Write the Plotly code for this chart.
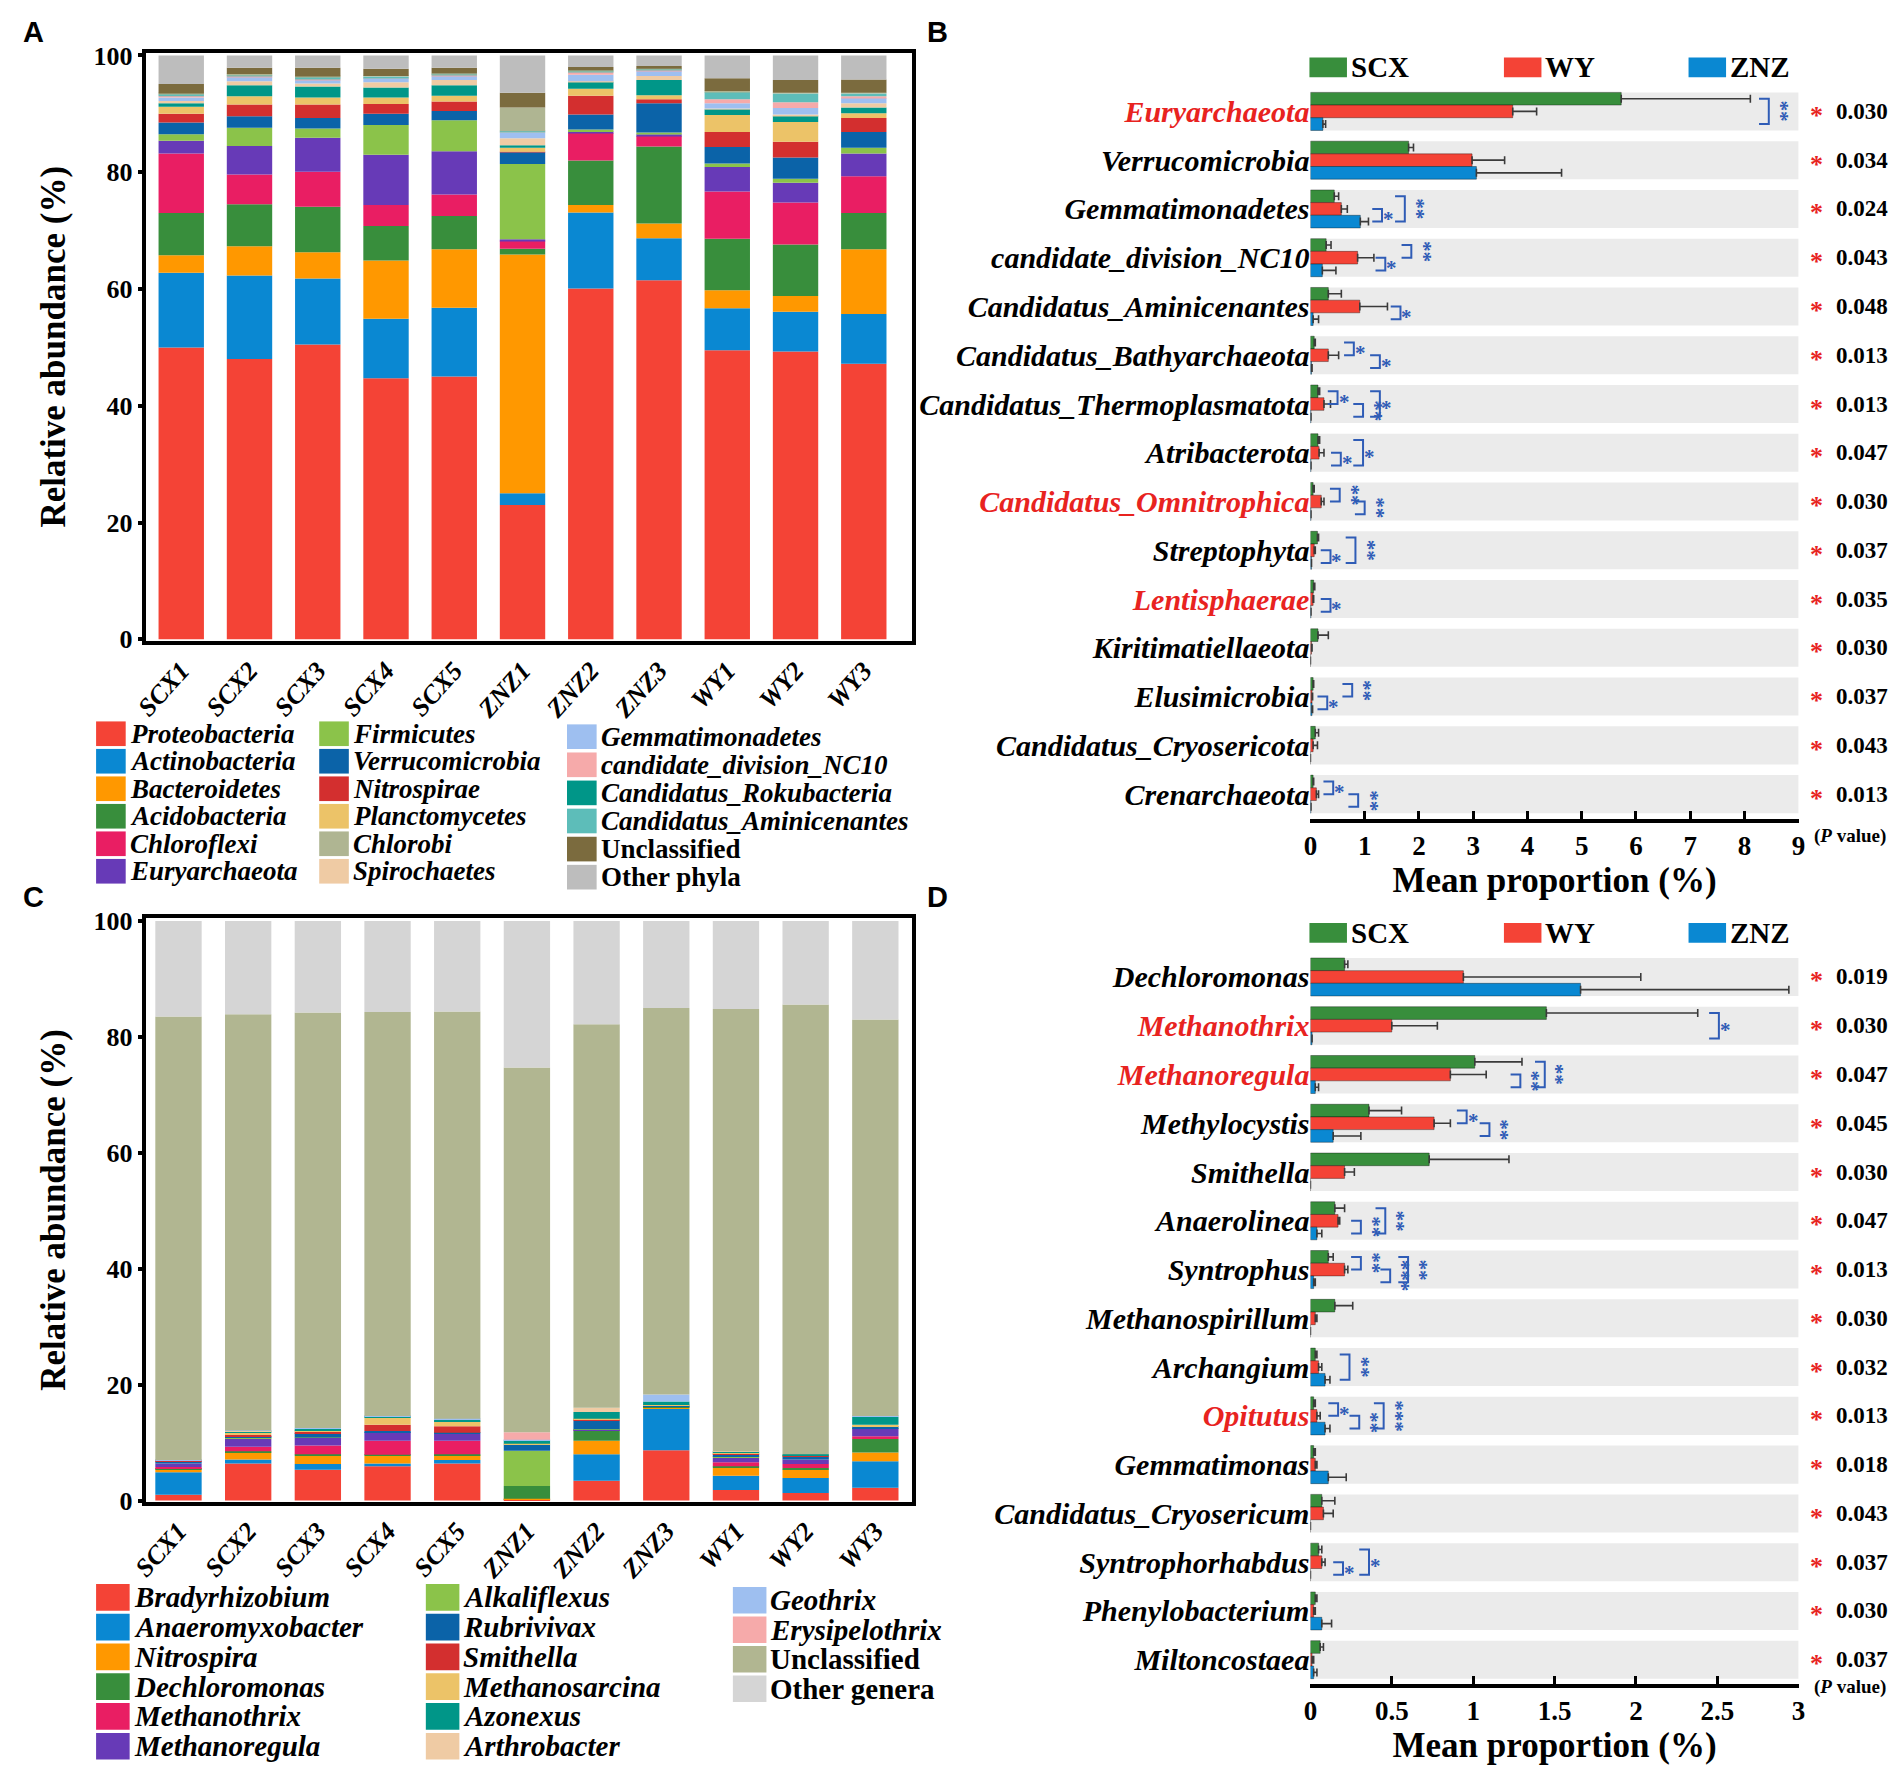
import numpy as np
import plotly.graph_objects as go

# page body has an 8 px margin: the figure is sized so the page fits the window exactly
OFF = 8
FW, FH = 1885, 1766
def px(x): return (x - OFF) / FW
def py(y): return 1 - (y - OFF) / FH

SERIF = "Liberation Serif"
SANS = "Liberation Sans"

samples = ["SCX1", "SCX2", "SCX3", "SCX4", "SCX5", "ZNZ1", "ZNZ2", "ZNZ3", "WY1", "WY2", "WY3"]

# ---------------- Panel A : phyla (relative abundance, %) ----------------
proteobacteria   = [50.0, 48.0, 50.5, 44.7, 45.0, 23.0, 60.1, 61.5, 49.5, 49.3, 47.2]
actinobacteria   = [12.8, 14.3, 11.3, 10.2, 11.8, 2.0, 13.0, 7.2, 7.2, 6.8, 8.5]
bacteroidetes    = [3.0, 5.0, 4.5, 10.0, 10.0, 40.9, 1.3, 2.5, 3.1, 2.7, 11.1]
acidobacteria    = [7.2, 7.2, 7.8, 5.9, 5.7, 1.0, 7.6, 13.2, 8.8, 8.8, 6.2]
chloroflexi      = [10.2, 5.1, 6.0, 3.6, 3.7, 1.4, 4.7, 1.8, 8.1, 7.2, 6.3]
euryarchaeota    = [2.2, 4.9, 5.8, 8.6, 7.4, 0.2, 0.2, 0.3, 4.2, 3.4, 3.9]
firmicutes       = [1.1, 3.1, 1.6, 5.1, 5.3, 12.9, 0.4, 0.3, 0.6, 0.7, 1.0]
verrucomicrobia  = [2.0, 2.0, 1.8, 1.9, 1.6, 2.0, 2.6, 5.0, 2.8, 3.6, 2.7]
nitrospirae      = [1.5, 2.0, 2.3, 1.7, 1.6, 0.1, 3.2, 0.7, 2.6, 2.7, 2.4]
planctomycetes   = [1.2, 1.4, 1.2, 1.1, 1.0, 0.7, 1.2, 0.7, 2.9, 3.4, 0.8]
rokubacteria     = [0.6, 1.9, 1.9, 1.7, 1.8, 0.4, 1.2, 2.6, 1.0, 1.1, 1.0]
spirochaetes     = [0.4, 0.7, 0.5, 0.9, 0.9, 1.2, 0.1, 0.7, 0.1, 0.2, 0.7]
gemmatimonadetes = [0.6, 0.7, 0.6, 0.7, 0.7, 1.0, 1.1, 0.9, 0.9, 1.1, 0.9]
nc10             = [0.2, 0.1, 0.1, 0.1, 0.1, 0.1, 0.5, 0.1, 0.7, 1.0, 0.3]
aminicenantes    = [0.4, 0.3, 0.4, 0.2, 0.2, 0.1, 0.1, 0.1, 1.3, 1.5, 0.5]
chlorobi         = [0.1, 0.1, 0.1, 0.1, 0.1, 4.1, 0.1, 0.1, 0.1, 0.1, 0.1]
unclassified_a   = [1.6, 1.1, 1.5, 1.2, 1.0, 2.5, 0.6, 0.5, 2.2, 2.2, 2.3]
other_phyla      = [4.9, 2.1, 2.1, 2.3, 2.1, 6.4, 2.0, 1.8, 3.9, 4.2, 4.1]

# (name, values, colour, italic) in stacking order (bottom -> top)
a_stack = [
    ("Proteobacteria", proteobacteria, "#F44336", True),
    ("Actinobacteria", actinobacteria, "#0A88D2", True),
    ("Bacteroidetes", bacteroidetes, "#FF9800", True),
    ("Acidobacteria", acidobacteria, "#388E3C", True),
    ("Chloroflexi", chloroflexi, "#E91E63", True),
    ("Euryarchaeota", euryarchaeota, "#673AB7", True),
    ("Firmicutes", firmicutes, "#8BC34A", True),
    ("Verrucomicrobia", verrucomicrobia, "#0B63A8", True),
    ("Nitrospirae", nitrospirae, "#D32F2F", True),
    ("Planctomycetes", planctomycetes, "#ECC368", True),
    ("Candidatus_Rokubacteria", rokubacteria, "#009688", True),
    ("Spirochaetes", spirochaetes, "#EFCBA4", True),
    ("Gemmatimonadetes", gemmatimonadetes, "#9EBFF0", True),
    ("candidate_division_NC10", nc10, "#F6AAAA", True),
    ("Candidatus_Aminicenantes", aminicenantes, "#5DBDB9", True),
    ("Chlorobi", chlorobi, "#AFB592", True),
    ("Unclassified", unclassified_a, "#7B6B3E", False),
    ("Other phyla", other_phyla, "#BDBDBD", False),
]
a_legend_cols = [
    ["Proteobacteria", "Actinobacteria", "Bacteroidetes", "Acidobacteria", "Chloroflexi", "Euryarchaeota"],
    ["Firmicutes", "Verrucomicrobia", "Nitrospirae", "Planctomycetes", "Chlorobi", "Spirochaetes"],
    ["Gemmatimonadetes", "candidate_division_NC10", "Candidatus_Rokubacteria", "Candidatus_Aminicenantes", "Unclassified", "Other phyla"],
]

# ---------------- Panel C : genera (relative abundance, %) ----------------
bradyrhizobium   = [1.0, 6.4, 5.3, 5.9, 6.4, 0.1, 3.4, 8.7, 1.8, 1.3, 2.2]
anaeromyxobacter = [3.9, 0.7, 1.0, 0.5, 0.6, 0.1, 4.6, 7.1, 2.5, 2.6, 4.6]
nitrospira       = [0.5, 1.2, 1.4, 1.3, 0.8, 0.1, 2.3, 0.2, 1.3, 1.4, 1.5]
dechloromonas    = [0.1, 0.2, 0.3, 0.2, 0.2, 2.2, 1.7, 0.2, 0.3, 0.3, 2.3]
methanothrix     = [0.3, 0.8, 1.5, 2.4, 2.3, 0.0, 0.1, 0.0, 0.7, 0.7, 0.5]
methanoregula    = [0.6, 1.4, 1.3, 1.5, 1.2, 0.0, 0.1, 0.0, 0.8, 0.8, 1.3]
alkaliflexus     = [0.0, 0.1, 0.1, 0.0, 0.0, 6.1, 0.1, 0.0, 0.1, 0.0, 0.1]
rubrivivax       = [0.4, 0.2, 0.7, 0.2, 0.2, 1.1, 1.5, 0.1, 0.5, 0.5, 0.2]
smithella        = [0.1, 0.3, 0.3, 1.1, 1.1, 0.0, 0.1, 0.0, 0.1, 0.1, 0.1]
methanosarcina   = [0.0, 0.4, 0.2, 1.2, 0.9, 0.1, 0.2, 0.2, 0.1, 0.1, 0.3]
azonexus         = [0.0, 0.2, 0.3, 0.2, 0.2, 0.6, 1.2, 0.6, 0.2, 0.2, 1.3]
arthrobacter     = [0.0, 0.1, 0.0, 0.0, 0.1, 0.0, 0.7, 0.0, 0.1, 0.0, 0.1]
geothrix         = [0.1, 0.1, 0.1, 0.1, 0.1, 0.1, 0.0, 1.2, 0.0, 0.0, 0.1]
erysipelothrix   = [0.0, 0.0, 0.0, 0.0, 0.0, 1.3, 0.0, 0.0, 0.0, 0.0, 0.0]
unclassified_c   = [76.5, 71.8, 71.7, 69.7, 70.3, 62.9, 66.2, 66.7, 76.3, 77.6, 68.4]
other_genera     = [16.5, 16.1, 15.8, 15.7, 15.6, 25.3, 17.8, 15.0, 15.2, 14.4, 17.0]

c_stack = [
    ("Bradyrhizobium", bradyrhizobium, "#F44336", True),
    ("Anaeromyxobacter", anaeromyxobacter, "#0A88D2", True),
    ("Nitrospira", nitrospira, "#FF9800", True),
    ("Dechloromonas", dechloromonas, "#388E3C", True),
    ("Methanothrix", methanothrix, "#E91E63", True),
    ("Methanoregula", methanoregula, "#673AB7", True),
    ("Alkaliflexus", alkaliflexus, "#8BC34A", True),
    ("Rubrivivax", rubrivivax, "#0B63A8", True),
    ("Smithella", smithella, "#D32F2F", True),
    ("Methanosarcina", methanosarcina, "#ECC368", True),
    ("Azonexus", azonexus, "#009688", True),
    ("Arthrobacter", arthrobacter, "#EFCBA4", True),
    ("Geothrix", geothrix, "#9EBFF0", True),
    ("Erysipelothrix", erysipelothrix, "#F6AAAA", True),
    ("Unclassified", unclassified_c, "#B1B691", False),
    ("Other genera", other_genera, "#D5D5D5", False),
]
c_legend_cols = [
    ["Bradyrhizobium", "Anaeromyxobacter", "Nitrospira", "Dechloromonas", "Methanothrix", "Methanoregula"],
    ["Alkaliflexus", "Rubrivivax", "Smithella", "Methanosarcina", "Azonexus", "Arthrobacter"],
    ["Geothrix", "Erysipelothrix", "Unclassified", "Other genera"],
]

# ---------------- Panel B : phyla mean proportion (%) ----------------
groups = ["SCX", "WY", "ZNZ"]
group_colors = ["#388E3C", "#F44336", "#0A88D2"]

b_taxa = ["Euryarchaeota", "Verrucomicrobia", "Gemmatimonadetes", "candidate_division_NC10",
          "Candidatus_Aminicenantes", "Candidatus_Bathyarchaeota", "Candidatus_Thermoplasmatota",
          "Atribacterota", "Candidatus_Omnitrophica", "Streptophyta", "Lentisphaerae",
          "Kiritimatiellaeota", "Elusimicrobia", "Candidatus_Cryosericota", "Crenarchaeota"]
b_scx = [5.73, 1.81, 0.44, 0.29, 0.33, 0.07, 0.14, 0.14, 0.05, 0.13, 0.06, 0.14, 0.05, 0.09, 0.05]
b_wy  = [3.73, 2.98, 0.57, 0.87, 0.91, 0.33, 0.25, 0.16, 0.20, 0.07, 0.05, 0.02, 0.03, 0.05, 0.11]
b_znz = [0.23, 3.06, 0.92, 0.22, 0.05, 0.02, 0.01, 0.01, 0.01, 0.02, 0.01, 0.00, 0.03, 0.00, 0.01]
b_scx_err = [2.38, 0.09, 0.08, 0.09, 0.24, 0.02, 0.03, 0.03, 0.02, 0.02, 0.02, 0.19, 0.01, 0.06, 0.01]
b_wy_err  = [0.44, 0.60, 0.11, 0.30, 0.51, 0.19, 0.12, 0.09, 0.05, 0.02, 0.01, 0.01, 0.01, 0.08, 0.04]
b_znz_err = [0.05, 1.57, 0.15, 0.25, 0.10, 0.01, 0.00, 0.00, 0.00, 0.00, 0.00, 0.00, 0.01, 0.00, 0.00]
b_pvalues = ["0.030", "0.034", "0.024", "0.043", "0.048", "0.013", "0.013", "0.047", "0.030",
             "0.037", "0.035", "0.030", "0.037", "0.043", "0.013"]
b_red = ["Euryarchaeota", "Candidatus_Omnitrophica", "Lentisphaerae"]
# (row, group a, group b, x of bracket, number of stars)
b_brackets = [
    (0, 0, 2, 8.45, 2),
    (2, 1, 2, 1.32, 1), (2, 0, 2, 1.74, 2),
    (3, 0, 1, 1.86, 2), (3, 1, 2, 1.38, 1),
    (4, 1, 2, 1.66, 1),
    (5, 0, 1, 0.80, 1), (5, 1, 2, 1.28, 1),
    (6, 0, 1, 0.50, 1), (6, 1, 2, 0.97, 2), (6, 0, 2, 1.28, 1),
    (7, 1, 2, 0.56, 1), (7, 0, 2, 0.97, 1),
    (8, 0, 1, 0.54, 2), (8, 1, 2, 1.00, 2),
    (9, 1, 2, 0.37, 1), (9, 0, 2, 0.83, 2),
    (10, 1, 2, 0.37, 1),
    (12, 0, 1, 0.77, 2), (12, 1, 2, 0.31, 1),
    (14, 0, 1, 0.42, 1), (14, 1, 2, 0.88, 2),
]

# ---------------- Panel D : genera mean proportion (%) ----------------
d_taxa = ["Dechloromonas", "Methanothrix", "Methanoregula", "Methylocystis", "Smithella",
          "Anaerolinea", "Syntrophus", "Methanospirillum", "Archangium", "Opitutus",
          "Gemmatimonas", "Candidatus_Cryosericum", "Syntrophorhabdus", "Phenylobacterium",
          "Miltoncostaea"]
d_scx = [0.21, 1.45, 1.01, 0.36, 0.73, 0.15, 0.11, 0.15, 0.03, 0.02, 0.02, 0.07, 0.05, 0.03, 0.06]
d_wy  = [0.94, 0.50, 0.86, 0.76, 0.21, 0.17, 0.21, 0.03, 0.05, 0.04, 0.03, 0.08, 0.07, 0.02, 0.01]
d_znz = [1.66, 0.01, 0.03, 0.14, 0.00, 0.04, 0.02, 0.00, 0.09, 0.09, 0.11, 0.00, 0.00, 0.07, 0.02]
d_scx_err = [0.02, 0.93, 0.29, 0.20, 0.49, 0.06, 0.03, 0.11, 0.01, 0.01, 0.01, 0.08, 0.02, 0.01, 0.02]
d_wy_err  = [1.09, 0.28, 0.22, 0.10, 0.06, 0.01, 0.02, 0.01, 0.02, 0.02, 0.01, 0.06, 0.02, 0.01, 0.01]
d_znz_err = [1.28, 0.00, 0.02, 0.17, 0.00, 0.03, 0.01, 0.00, 0.03, 0.03, 0.11, 0.00, 0.00, 0.06, 0.02]
d_pvalues = ["0.019", "0.030", "0.047", "0.045", "0.030", "0.047", "0.013", "0.030", "0.032",
             "0.013", "0.018", "0.043", "0.037", "0.030", "0.037"]
d_red = ["Methanothrix", "Methanoregula", "Opitutus"]
d_brackets = [
    (1, 0, 2, 2.51, 1),
    (2, 1, 2, 1.29, 2), (2, 0, 2, 1.44, 2),
    (3, 0, 1, 0.96, 1), (3, 1, 2, 1.10, 2),
    (5, 1, 2, 0.31, 2), (5, 0, 2, 0.46, 2),
    (6, 0, 1, 0.31, 2), (6, 1, 2, 0.49, 3), (6, 0, 2, 0.60, 2),
    (8, 0, 2, 0.24, 2),
    (9, 0, 1, 0.17, 1), (9, 1, 2, 0.30, 2), (9, 0, 2, 0.45, 3),
    (12, 1, 2, 0.20, 1), (12, 0, 2, 0.36, 1),
]

# ======================================================================
fig = go.Figure()
shapes = []
annotations = []
BR = "#2F5CB6"

# ---- stacked bars (A and C)
def add_stack(stack, xa, ya):
    base = np.zeros(len(samples))
    for name, vals, col, _ in stack:
        v = np.array(vals, dtype=float)
        fig.add_trace(go.Bar(
            x=list(range(len(samples))), y=v, base=base.copy(), width=0.665,
            marker=dict(color=col, line=dict(width=0)), name=name,
            xaxis=xa, yaxis=ya, showlegend=False,
            hovertemplate=name + ": %{y}<extra></extra>"))
        base = base + v

add_stack(a_stack, "x", "y")
add_stack(c_stack, "x3", "y3")

# ---- grouped horizontal bars (B and D)
GW = 0.78
BW = GW / 3
centers = [-GW / 2 + BW / 2 + BW * k for k in range(3)]

def add_group(taxa, vals, errs, xa, ya, xmax):
    n = len(taxa)
    for i in range(n):
        shapes.append(dict(type="rect", xref=xa, yref=ya, x0=0, x1=xmax,
                           y0=i - GW / 2, y1=i + GW / 2, fillcolor="#EBEBEB",
                           line=dict(width=0), layer="below"))
    for k in range(3):
        fig.add_trace(go.Bar(
            y=list(range(n)), x=vals[k], orientation="h", width=BW,
            offset=-GW / 2 + BW * k, name=groups[k],
            marker=dict(color=group_colors[k], line=dict(color="rgba(0,0,0,0.35)", width=1)),
            error_x=dict(type="data", array=errs[k], arrayminus=[0] * n, symmetric=False,
                         color="#3a3a3a", thickness=1.6, width=4),
            xaxis=xa, yaxis=ya, showlegend=False))

add_group(b_taxa, [b_scx, b_wy, b_znz], [b_scx_err, b_wy_err, b_znz_err], "x2", "y2", 9)
add_group(d_taxa, [d_scx, d_wy, d_znz], [d_scx_err, d_wy_err, d_znz_err], "x4", "y4", 3)

def add_brackets(brackets, xa, ya, tick):
    for row, g1, g2, xv, nstar in brackets:
        y1 = row + centers[g1]
        y2 = row + centers[g2]
        shapes.append(dict(type="path", xref=xa, yref=ya,
                           path=f"M {xv - tick},{y1} L {xv},{y1} L {xv},{y2} L {xv - tick},{y2}",
                           line=dict(color=BR, width=2)))
        if nstar == 1:
            annotations.append(dict(x=xv, y=(y1 + y2) / 2, xref=xa, yref=ya, text="<b>*</b>",
                                    showarrow=False, xanchor="left", xshift=-1, yshift=-4,
                                    font=dict(family=SERIF, size=21, color=BR)))
        else:
            annotations.append(dict(x=xv, y=(y1 + y2) / 2, xref=xa, yref=ya,
                                    text="<b>" + "*" * nstar + "</b>",
                                    textangle=90, showarrow=False, xanchor="left", xshift=-2,
                                    font=dict(family=SERIF, size=21, color=BR)))

add_brackets(b_brackets, "x2", "y2", 0.18)
add_brackets(d_brackets, "x4", "y4", 0.06)

def add_pvalues(pvals, ya, ypv):
    for i, p in enumerate(pvals):
        annotations.append(dict(x=px(1823), y=i, xref="paper", yref=ya, text="<b>*</b>",
                                showarrow=False, xanchor="center", yshift=-4,
                                font=dict(family=SERIF, size=26, color="#E8231F")))
        annotations.append(dict(x=px(1840), y=i, xref="paper", yref=ya, text="<b>" + p + "</b>",
                                showarrow=False, xanchor="left",
                                font=dict(family=SERIF, size=23, color="black")))
    annotations.append(dict(x=px(1857), y=py(ypv), xref="paper", yref="paper",
                            text="<b>(<i>P</i> value)</b>", showarrow=False, xanchor="center",
                            font=dict(family=SERIF, size=19, color="black")))

add_pvalues(b_pvalues, "y2", 837)
add_pvalues(d_pvalues, "y4", 1713)

def tick_labels(taxa, red):
    out = []
    for t in taxa:
        if t in red:
            out.append(f"<span style='color:#E8231F'>{t}</span>")
        else:
            out.append(t)
    return out

# ---- manual legends
def add_legend(cols, stack, col_x, row_y0, row_dy, sw_w, sw_h, fsize):
    info = {name: (col, it) for name, _, col, it in stack}
    for c, names in enumerate(cols):
        for r, name in enumerate(names):
            col, it = info[name]
            yc = row_y0[c] + r * row_dy[c]
            shapes.append(dict(type="rect", xref="paper", yref="paper",
                               x0=px(col_x[c]), x1=px(col_x[c] + sw_w),
                               y0=py(yc + sw_h / 2), y1=py(yc - sw_h / 2),
                               fillcolor=col, line=dict(width=0)))
            txt = f"<b><i>{name}</i></b>" if it else f"<b>{name}</b>"
            annotations.append(dict(x=px(col_x[c] + sw_w + 2), y=py(yc), xref="paper", yref="paper",
                                    text=txt, showarrow=False, xanchor="left", yanchor="middle",
                                    font=dict(family=SERIF, size=fsize, color="black")))

add_legend(a_legend_cols, a_stack, [80, 306, 557], [733, 733, 736], [27.9, 27.9, 28.5], 30, 25, 27)
add_legend(c_legend_cols, c_stack, [80, 414, 725], [1609, 1609, 1612], [30.2, 30.2, 29.9], 34, 27, 29)

def add_group_legend(yc):
    for k, xs in enumerate([1309, 1506, 1693]):
        shapes.append(dict(type="rect", xref="paper", yref="paper",
                           x0=px(xs), x1=px(xs + 38), y0=py(yc + 10), y1=py(yc - 10),
                           fillcolor=group_colors[k], line=dict(width=0)))
        annotations.append(dict(x=px(xs + 40), y=py(yc), xref="paper", yref="paper",
                                text="<b>" + groups[k] + "</b>", showarrow=False,
                                xanchor="left", yanchor="middle",
                                font=dict(family=SERIF, size=29, color="black")))

add_group_legend(57)
add_group_legend(935)

for letter, (lx, ly) in zip("ABCD", [(17, 21), (932, 21), (17, 899), (932, 899)]):
    annotations.append(dict(x=px(lx), y=py(ly), xref="paper", yref="paper", text="<b>" + letter + "</b>",
                            showarrow=False, xanchor="center", yanchor="middle",
                            font=dict(family=SANS, size=29, color="black")))

# ---- axes
def stack_x(dom, rng):
    return dict(domain=dom, range=rng, tickmode="array", tickvals=list(range(len(samples))),
                ticktext=samples, tickangle=-48, ticks="", showgrid=False, zeroline=False,
                showline=True, linewidth=3.5, linecolor="black", mirror=True,
                tickfont=dict(family=SERIF, size=26, color="black", weight="bold", style="italic"))

def stack_y(dom, rng, anchor):
    return dict(domain=dom, range=rng, anchor=anchor, tickmode="array", tickvals=[0, 20, 40, 60, 80, 100],
                ticks="outside", ticklen=5, tickwidth=3.5, tickcolor="black", showgrid=False,
                zeroline=False, showline=True, linewidth=3.5, linecolor="black", mirror=True,
                tickfont=dict(family=SERIF, size=26, color="black", weight="bold"),
                title=dict(text="<b>Relative abundance (%)</b>", standoff=18,
                           font=dict(family=SERIF, size=35, color="black")))

def group_x(dom, rng, tv, tt, anchor):
    return dict(domain=dom, range=rng, anchor=anchor, tickmode="array", tickvals=tv, ticktext=tt,
                ticks="inside", ticklen=8, tickwidth=2.5, tickcolor="black", showgrid=False,
                zeroline=False, showline=True, linewidth=3.5, linecolor="black",
                tickfont=dict(family=SERIF, size=27, color="black", weight="bold"),
                title=dict(text="<b>Mean proportion (%)</b>", standoff=2,
                           font=dict(family=SERIF, size=35, color="black")))

def group_y(dom, taxa, red, anchor):
    return dict(domain=dom, range=[14.5, -0.5], anchor=anchor, tickmode="array",
                tickvals=list(range(len(taxa))), ticktext=tick_labels(taxa, red), ticks="",
                showgrid=False, zeroline=False, showline=False,
                tickfont=dict(family=SERIF, size=30, color="black", weight="bold", style="italic"))

fig.update_layout(
    width=FW, height=FH, autosize=False,
    margin=dict(l=0, r=0, t=0, b=0),
    paper_bgcolor="white", plot_bgcolor="rgba(0,0,0,0)",
    barmode="overlay", showlegend=False,
    xaxis=dict(stack_x([px(131), px(906)], [-0.51, 10.70]), anchor="y"),
    yaxis=stack_y([py(639), py(42)], [-0.3, 100.5], "x"),
    xaxis3=dict(stack_x([px(131), px(906)], [-0.46, 10.52]), anchor="y3"),
    yaxis3=stack_y([py(1512), py(920)], [-0.2, 100.5], "x3"),
    xaxis2=group_x([px(1310), px(1804.5)], [0, 9], list(range(10)), [str(i) for i in range(10)], "y2"),
    yaxis2=group_y([py(819), py(77)], b_taxa, b_red, "x2"),
    xaxis4=group_x([px(1310), px(1804.5)], [0, 3], [0, 0.5, 1, 1.5, 2, 2.5, 3],
                   ["0", "0.5", "1", "1.5", "2", "2.5", "3"], "y4"),
    yaxis4=group_y([py(1697), py(955)], d_taxa, d_red, "x4"),
    shapes=shapes, annotations=annotations,
    font=dict(family=SERIF, color="black"),
)

fig.write_html("out.html")
